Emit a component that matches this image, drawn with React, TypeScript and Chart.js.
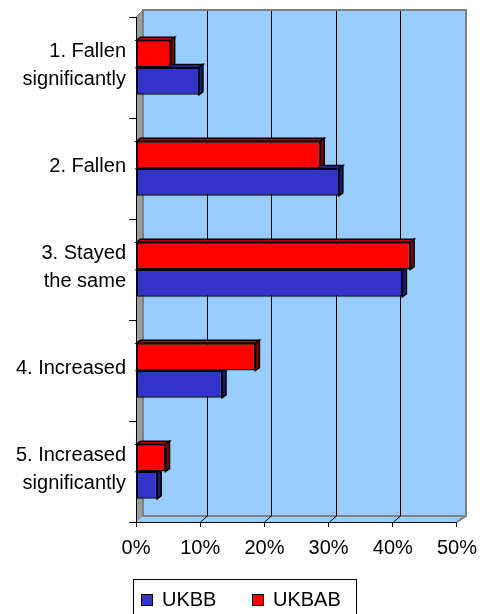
import React, { useEffect, useRef } from 'react';
import { Chart, registerables } from 'chart.js';

Chart.register(...registerables);

const categories: (string | string[])[] = [
  ['1. Fallen', 'significantly'],
  '2. Fallen',
  ['3. Stayed', 'the same'],
  '4. Increased',
  ['5. Increased', 'significantly'],
];
const seriesNames = ['UKBB', 'UKBAB'];
const ukbbValues = [9.8, 31.6, 41.5, 13.4, 3.3];
const ukbabValues = [5.4, 28.7, 42.7, 18.6, 4.6];
const xMin = 0;
const xMax = 50;
const xStep = 10;

const FONT = "'Liberation Sans', Arial, sans-serif";
const FS = 20;
const DX = 7;
const DY = 7;
const BDX = 4;
const BDY = 3;

const faceColors: Record<string, { top: string; side: string }> = {
  '#3333CC': { top: '#2B2BAD', side: '#1A1A70' },
  '#FF0000': { top: '#C00000', side: '#800000' },
};

const depthPlugin = {
  id: 'depth3d',
  beforeDraw(chart: any) {
    const { ctx, chartArea } = chart;
    const { left, top, right, bottom } = chartArea;
    const x = chart.scales.x;
    ctx.save();
    ctx.fillStyle = '#99CCFF';
    ctx.beginPath();
    ctx.moveTo(left, top);
    ctx.lineTo(left + DX, top - DY);
    ctx.lineTo(right + DX + 2, top - DY);
    ctx.lineTo(right + DX + 2, bottom - DY + 1);
    ctx.lineTo(right, bottom);
    ctx.lineTo(left, bottom);
    ctx.closePath();
    ctx.fill();
    ctx.fillStyle = '#9C9C9C';
    ctx.beginPath();
    ctx.moveTo(left, top);
    ctx.lineTo(left + DX, top - DY);
    ctx.lineTo(left + DX, bottom - DY + 1);
    ctx.lineTo(left, bottom);
    ctx.closePath();
    ctx.fill();
    ctx.strokeStyle = '#808080';
    ctx.lineWidth = 2;
    ctx.strokeRect(left + DX, top - DY, right + 2 - left, bottom - top + 1);
    ctx.beginPath();
    ctx.moveTo(right, bottom);
    ctx.lineTo(right + DX + 2, bottom - DY + 1);
    ctx.stroke();
    ctx.lineWidth = 1;
    ctx.beginPath();
    ctx.moveTo(left, top);
    ctx.lineTo(left + DX, top - DY);
    ctx.stroke();
    ctx.strokeStyle = '#000000';
    ctx.lineWidth = 1;
    x.ticks.forEach((t: any) => {
      if (t.value <= xMin || t.value >= xMax) return;
      const px = Math.round(x.getPixelForValue(t.value)) + 0.5;
      ctx.beginPath();
      ctx.moveTo(px + DX, top - DY + 1);
      ctx.lineTo(px + DX, bottom - DY + 1);
      ctx.lineTo(px, bottom);
      ctx.stroke();
    });
    ctx.restore();
  },
  beforeDatasetsDraw(chart: any) {
    const { ctx } = chart;
    ctx.save();
    chart.data.datasets.forEach((ds: any, di: number) => {
      const meta = chart.getDatasetMeta(di);
      const fc = faceColors[ds.backgroundColor] || { top: ds.backgroundColor, side: ds.backgroundColor };
      meta.data.forEach((bar: any) => {
        const { x, y, base, height } = bar.getProps(['x', 'y', 'base', 'height'], true);
        const t = y - height / 2;
        const b = y + height / 2;
        ctx.lineWidth = 1.5;
        ctx.strokeStyle = '#000';
        ctx.fillStyle = fc.top;
        ctx.beginPath();
        ctx.moveTo(base, t);
        ctx.lineTo(base + BDX, t - BDY);
        ctx.lineTo(x + BDX, t - BDY);
        ctx.lineTo(x, t);
        ctx.closePath();
        ctx.fill();
        ctx.stroke();
        ctx.fillStyle = fc.side;
        ctx.beginPath();
        ctx.moveTo(x, t);
        ctx.lineTo(x + BDX, t - BDY);
        ctx.lineTo(x + BDX, b - BDY);
        ctx.lineTo(x, b);
        ctx.closePath();
        ctx.fill();
        ctx.stroke();
      });
    });
    ctx.restore();
  },
  afterDraw(chart: any) {
    const { ctx } = chart;
    ctx.save();
    ctx.strokeStyle = '#000';
    ctx.lineWidth = 1;
    ctx.strokeRect(133.5, 579.5, 223, 60);
    ctx.font = `${FS}px ${FONT}`;
    ctx.textBaseline = 'middle';
    ctx.textAlign = 'left';
    const order = [1, 0];
    const boxX = [141, 252];
    order.forEach((di, i) => {
      const ds = chart.data.datasets[di];
      ctx.fillStyle = ds.backgroundColor;
      ctx.fillRect(boxX[i], 594, 12, 12);
      ctx.strokeRect(boxX[i] + 0.5, 594.5, 11, 11);
      ctx.fillStyle = '#000';
      ctx.fillText(ds.label, boxX[i] + 21, 600);
    });
    ctx.restore();
  },
};

export default function App() {
  const ref = useRef<HTMLCanvasElement | null>(null);
  useEffect(() => {
    if (!ref.current) return;
    Chart.defaults.font.family = FONT;
    Chart.defaults.font.size = FS;
    Chart.defaults.color = '#000';
    const chart = new Chart(ref.current, {
      type: 'bar',
      data: {
        labels: categories,
        datasets: [
          {
            label: seriesNames[1],
            data: ukbabValues,
            backgroundColor: '#FF0000',
            borderColor: '#000',
            borderWidth: 1.5,
            borderSkipped: false,
            barPercentage: 1,
            categoryPercentage: 0.54,
          },
          {
            label: seriesNames[0],
            data: ukbbValues,
            backgroundColor: '#3333CC',
            borderColor: '#000',
            borderWidth: 1.5,
            borderSkipped: false,
            barPercentage: 1,
            categoryPercentage: 0.54,
          },
        ],
      },
      options: {
        indexAxis: 'y',
        responsive: false,
        animation: false,
        devicePixelRatio: 1,
        layout: { padding: { top: 17, right: 23, left: 0, bottom: 0 } },
        plugins: {
          legend: { display: false },
          tooltip: { enabled: false },
        },
        scales: {
          x: {
            min: xMin,
            max: xMax,
            ticks: {
              stepSize: xStep,
              callback: (v: any) => `${v}%`,
              padding: 9,
              font: { size: FS, family: FONT },
              color: '#000',
              maxRotation: 0,
            },
            grid: {
              drawOnChartArea: false,
              drawTicks: true,
              tickLength: 5,
              color: '#000',
            },
            border: { display: true, color: '#000', width: 1 },
            afterFit: (scale: any) => {
              scale.height = 108;
              scale.paddingLeft = 0;
            },
          },
          y: {
            ticks: {
              padding: 3,
              labelOffset: -2,
              font: { size: FS, family: FONT, lineHeight: 1.4 },
              color: '#000',
            },
            grid: {
              drawOnChartArea: false,
              drawTicks: true,
              tickLength: 7,
              color: '#000',
              offset: true,
            },
            border: { display: true, color: '#000', width: 1 },
            afterFit: (scale: any) => {
              scale.width = 136;
              scale.paddingTop = 0;
              scale.paddingBottom = 0;
            },
          },
        },
      },
      plugins: [depthPlugin],
    } as any);
    return () => chart.destroy();
  }, []);
  return (
    <div style={{ position: 'fixed', left: 0, top: 0, width: 486, height: 614, overflow: 'hidden', background: '#fff' }}>
      <canvas ref={ref} width={486} height={630} style={{ display: 'block', width: 486, height: 630 }} />
    </div>
  );
}
